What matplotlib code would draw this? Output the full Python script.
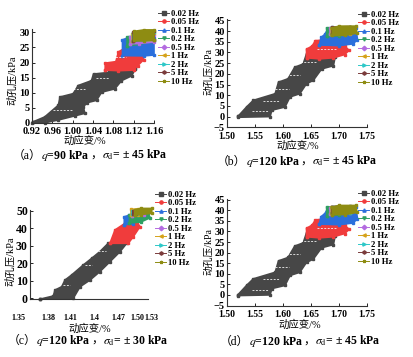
import numpy as np
import matplotlib
matplotlib.use("Agg")
import matplotlib.pyplot as plt
from matplotlib.lines import Line2D

plt.rcParams['font.family'] = ['Liberation Serif', 'Noto Sans CJK SC']
plt.rcParams['mathtext.fontset'] = 'stix'

freqs = ['0.02 Hz', '0.05 Hz', '0.1 Hz', '0.2 Hz', '0.5 Hz', '1 Hz', '2 Hz', '5 Hz', '10 Hz']
colors = ['#474747', '#f03c3c', '#2b6fdc', '#2e9f62', '#b46be0', '#d5a21a', '#2ec8c8', '#7b3c3c', '#8e8c12']
markers = ['s', 'o', '^', 'v', 'D', '<', '>', 'h', '*']

# outlines of the point clouds, strain (%) and pore pressure (kPa)
# (a) q=90 kPa, +-45 kPa
a_x_002 = [0.921, 0.945, 0.972, 0.975, 1.001, 1.011, 1.037, 1.041, 1.070, 1.075, 1.100, 1.123,
           1.123, 1.116, 1.096, 1.083, 1.057, 1.047, 1.028, 1.021, 1.024, 1.005, 0.972, 0.946, 0.920]
a_y_002 = [0.3, 2.0, 5.9, 8.6, 9.7, 12.4, 14.0, 16.2, 16.7, 18.5, 18.8, 18.2,
           17.8, 15.6, 14.0, 11.3, 10.2, 7.5, 6.7, 5.3, 3.2, 2.4, 1.0, 0.1, 0.0]
a_x_005 = [1.064, 1.064, 1.085, 1.090, 1.100, 1.120, 1.135, 1.140, 1.128, 1.120, 1.090]
a_y_005 = [17.5, 19.8, 20.3, 23.5, 24.5, 25.0, 24.0, 21.0, 19.0, 17.5, 17.3]
a_x_01 = [1.098, 1.098, 1.110, 1.130, 1.160, 1.160, 1.140]
a_y_01 = [22.3, 27.5, 28.3, 28.5, 28.0, 22.5, 22.2]
a_x_02 = [1.107, 1.107, 1.150, 1.155, 1.130]
a_y_02 = [25.5, 28.5, 29.0, 27.0, 26.0]
a_x_05 = [1.113, 1.113, 1.160, 1.160, 1.130]
a_y_05 = [26.2, 28.5, 29.0, 26.8, 26.3]
a_x_1 = [1.117, 1.117, 1.160, 1.160]
a_y_1 = [27.0, 29.5, 29.8, 27.3]
a_x_2 = [1.118, 1.118, 1.160, 1.160]
a_y_2 = [27.1, 29.8, 30.0, 27.4]
a_x_5 = [1.119, 1.119, 1.160, 1.160]
a_y_5 = [27.2, 30.0, 30.3, 27.5]
a_x_10 = [1.120, 1.120, 1.140, 1.160, 1.160, 1.140]
a_y_10 = [27.3, 30.3, 30.8, 30.8, 27.5, 27.2]
# white gaps inside the loops: strain start, strain end, pore pressure
a_gaps = [(0.962, 0.998, 4.4), (1.000, 1.025, 11.3), (1.045, 1.072, 15.0), (1.078, 1.105, 21.8)]

# (b) q=120 kPa, +-45 kPa  (panel d shows the same test)
b_x_002 = [1.520, 1.535, 1.547, 1.586, 1.592, 1.609, 1.621, 1.636, 1.642, 1.665, 1.693, 1.690, 1.669, 1.654, 1.642, 1.630, 1.6125, 1.6036, 1.580, 1.577, 1.520]
b_y_002 = [0.2, 4.5, 7.6, 10.7, 16.1, 17.7, 23.1, 24.6, 29.3, 29.5, 27.7, 23.8, 22.3, 16.9, 15.4, 10.7, 9.2, 4.5, 3.0, 0.0, -0.3]
b_x_005 = [1.642, 1.642, 1.652, 1.658, 1.680, 1.700, 1.710, 1.718, 1.710, 1.690, 1.665]
b_y_005 = [27.5, 31.5, 33.0, 35.5, 36.0, 35.0, 33.0, 31.0, 29.0, 27.5, 27.0]
b_x_01 = [1.665, 1.668, 1.675, 1.680, 1.700, 1.730, 1.733, 1.725, 1.700]
b_y_01 = [33.5, 37.0, 38.5, 41.0, 41.5, 41.5, 36.0, 34.0, 33.2]
b_x_02 = [1.678, 1.678, 1.700, 1.700]
b_y_02 = [37.5, 41.5, 41.8, 37.8]
b_x_05 = [1.684, 1.684, 1.700, 1.700]
b_y_05 = [38.5, 41.2, 41.5, 38.8]
b_x_1 = [1.686, 1.686, 1.720, 1.720]
b_y_1 = [38.6, 41.5, 41.8, 38.8]
b_x_2 = [1.687, 1.687, 1.720, 1.720]
b_y_2 = [38.7, 41.7, 42.0, 38.9]
b_x_5 = [1.687, 1.687, 1.720, 1.720]
b_y_5 = [38.8, 41.8, 42.1, 39.0]
b_x_10 = [1.688, 1.688, 1.700, 1.730, 1.732, 1.710]
b_y_10 = [38.0, 41.5, 42.3, 42.3, 39.0, 38.0]
b_gaps = [(1.545, 1.575, 2.5), (1.565, 1.595, 7.5), (1.585, 1.610, 13.0), (1.605, 1.630, 19.5),
          (1.625, 1.660, 25.5), (1.660, 1.695, 31.5)]

# (c) q=120 kPa, +-30 kPa
c_x_002 = [1.3793, 1.3972, 1.3995, 1.4086, 1.413, 1.422, 1.4377, 1.449, 1.460, 1.4714, 1.4963, 1.4872, 1.4737, 1.460, 1.4467, 1.4333, 1.4242, 1.3793]
c_y_002 = [-0.5, 1.3, 4.7, 6.6, 10.4, 13.3, 19.0, 22.8, 26.6, 31.4, 31.4, 26.6, 20.9, 15.2, 10.4, 6.6, 0.0, -0.5]
c_x_005 = [1.4737, 1.4805, 1.494, 1.5098, 1.5142, 1.5052, 1.4984]
c_y_005 = [31.4, 39.0, 42.8, 43.7, 40.9, 35.2, 31.4]
c_x_01 = [1.493, 1.493, 1.500, 1.510, 1.505]
c_y_01 = [42.0, 46.5, 47.5, 46.0, 42.5]
c_x_02 = [1.500, 1.500, 1.512, 1.525, 1.528, 1.515]
c_y_02 = [43.0, 47.5, 48.5, 48.5, 46.0, 43.5]
c_x_05 = [1.503, 1.503, 1.520, 1.520]
c_y_05 = [47.0, 50.0, 50.0, 47.3]
c_x_1 = [1.502, 1.502, 1.512, 1.512]
c_y_1 = [47.5, 50.8, 51.0, 47.8]
c_x_2 = [1.504, 1.504, 1.510, 1.510]
c_y_2 = [48.0, 50.0, 50.0, 48.0]
c_x_5 = [1.505, 1.505, 1.509, 1.509]
c_y_5 = [48.2, 49.8, 49.8, 48.2]
c_x_10 = [1.507, 1.507, 1.515, 1.530, 1.530, 1.515]
c_y_10 = [47.5, 50.5, 51.3, 51.3, 48.5, 47.8]
c_gaps = [(1.410, 1.420, 7.5), (1.440, 1.450, 19.0), (1.458, 1.468, 27.0)]

a_series = [(a_x_002, a_y_002), (a_x_005, a_y_005), (a_x_01, a_y_01), (a_x_02, a_y_02), (a_x_05, a_y_05),
            (a_x_1, a_y_1), (a_x_2, a_y_2), (a_x_5, a_y_5), (a_x_10, a_y_10)]
b_series = [(b_x_002, b_y_002), (b_x_005, b_y_005), (b_x_01, b_y_01), (b_x_02, b_y_02), (b_x_05, b_y_05),
            (b_x_1, b_y_1), (b_x_2, b_y_2), (b_x_5, b_y_5), (b_x_10, b_y_10)]
c_series = [(c_x_002, c_y_002), (c_x_005, c_y_005), (c_x_01, c_y_01), (c_x_02, c_y_02), (c_x_05, c_y_05),
            (c_x_1, c_y_1), (c_x_2, c_y_2), (c_x_5, c_y_5), (c_x_10, c_y_10)]

a_xticks = [0.92, 0.96, 1.00, 1.04, 1.08, 1.12, 1.16]
b_xticks = [1.50, 1.55, 1.60, 1.65, 1.70, 1.75]
c_xlabels = ['1.35', '1.38', '1.41', '1.4', '1.47', '1.50', '1.53']
c_xpos = [1.35, 1.3905, 1.4198, 1.4521, 1.4849, 1.5106, 1.53]

cap_tags = ['（a）', '（b）', '（c）', '（d）']
cap_q = ['$q$=90 kPa', '$q$=120 kPa', '$q$=120 kPa', '$q$=120 kPa']
cap_sd = ['$\\sigma_{\\rm d}$= ± 45 kPa', '$\\sigma_{\\rm d}$= ± 45 kPa',
          '$\\sigma_{\\rm d}$= ± 30 kPa', '$\\sigma_{\\rm d}$= ± 45 kPa']

W, H = 414, 357
fig = plt.figure(figsize=(W / 100, H / 100), dpi=100)
renderer = fig.canvas.get_renderer()


def px_axes(l, t, r, b):
    return fig.add_axes([l / W, 1 - b / H, (r - l) / W, (b - t) / H])


def draw(ax, series, gaps):
    for (x, y), c in zip(series, colors):
        ax.fill(x, y, color=c, lw=1.2, ec=c, clip_on=False, zorder=2)
        ax.plot(x + x[:1], y + y[:1], ls='none', marker='s', ms=1.6, color=c, clip_on=False, zorder=2)
    for x0, x1, y in gaps:
        ax.plot([x0, x1], [y, y], color='white', lw=0.7, dashes=(2, 1.5), alpha=0.8, zorder=3)
    for s in ['top', 'right']:
        ax.spines[s].set_visible(False)
    for s in ['left', 'bottom']:
        ax.spines[s].set_linewidth(0.8)
        ax.spines[s].set_color('#333333')
    ax.tick_params(direction='in', length=2, width=0.6, labelsize=7.5, pad=1.5)


def bold_ticks(ax):
    for t in ax.get_xticklabels() + ax.get_yticklabels():
        t.set_fontweight('bold')


def legend(x, y):
    hs = [Line2D([0], [0], color=c, marker=m, ms=2.3, lw=0.7) for c, m in zip(colors, markers)]
    fig.legend(hs, freqs, loc='upper left', bbox_to_anchor=(x / W, 1 - y / H), frameon=False,
               prop={'size': 6.2, 'weight': 'bold'}, handlelength=1.3, handletextpad=0.2,
               labelspacing=0.05, borderpad=0, borderaxespad=0)


def caption(x, y, i):
    # pieces share one baseline; CJK brackets need the CJK font, the rest uses mathtext
    pieces = [(cap_tags[i], 'normal'), (cap_q[i], 'bold'), ('，', 'normal'), (cap_sd[i], 'bold')]
    texts, widths = [], []
    for s, w in pieces:
        t = fig.text(0, 1 - y / H, s, fontsize=8.5, fontweight=w, ha='left', va='baseline')
        texts.append(t)
        widths.append(t.get_window_extent(renderer).width)
    x0 = x - sum(widths) / 2
    for t, w in zip(texts, widths):
        t.set_x(x0 / W)
        x0 += w


# (a)
ax = px_axes(32, 29.3, 154, 123)
draw(ax, a_series, a_gaps)
ax.set_xlim(0.92, 1.16)
ax.set_ylim(0, 31)
ax.set_xticks(a_xticks, ['%.2f' % v for v in a_xticks])
ax.set_yticks([0, 5, 10, 15, 20, 25, 30])
ax.tick_params(axis='x', pad=3)
bold_ticks(ax)
legend(158, 10)

# (b)
ax = px_axes(227, 19.3, 367, 127.3)
draw(ax, b_series, b_gaps)
ax.set_xlim(1.50, 1.75)
ax.set_ylim(-5, 45.5)
ax.set_xticks(b_xticks, ['%.2f' % v for v in b_xticks])
ax.set_yticks(range(-5, 46, 5))
ax.tick_params(axis='x', pad=3.2, labelsize=7)
bold_ticks(ax)
legend(358, 11)

# (c)
ax = px_axes(18.3, 210, 151.7, 299)
draw(ax, c_series, c_gaps)
ax.set_xlim(1.35, 1.53)
ax.set_ylim(-0.4, 50.4)
ax.spines['left'].set_position(('data', 1.3658))
ax.spines['bottom'].set_bounds(1.3658, 1.5254)
ax.set_xticks(c_xpos, c_xlabels)
ax.tick_params(axis='x', length=0, pad=11, labelsize=5.8)
ax.tick_params(axis='y', labelsize=8.5)
ax.set_yticks([0, 10, 20, 30, 40, 50])
bold_ticks(ax)
legend(155, 191)

# (d)
ax = px_axes(227, 198.7, 367, 305.5)
draw(ax, b_series, b_gaps)
ax.set_xlim(1.50, 1.75)
ax.set_ylim(-5, 45.5)
ax.set_xticks(b_xticks, ['%.2f' % v for v in b_xticks])
ax.set_yticks(range(-5, 46, 5))
ax.tick_params(axis='x', pad=3.2, labelsize=7)
bold_ticks(ax)
legend(358, 190)

# axis titles and captions
for x, y in [(85, 141), (298, 146), (90, 329), (300, 325)]:
    fig.text(x / W, 1 - y / H, '动应变/%', ha='center', va='center', fontsize=7.5)
for x, y, fs in [(12, 80, 7.5), (208.5, 72, 7), (10, 261, 7.5), (208.5, 252, 7)]:
    fig.text(x / W, 1 - y / H, '动孔压/kPa', ha='center', va='center', fontsize=fs, rotation=90)
for i, (x, y) in enumerate([(90, 159), (297, 165), (88, 344), (300, 345)]):
    caption(x, y, i)

fig.savefig('out.png', dpi=100)
